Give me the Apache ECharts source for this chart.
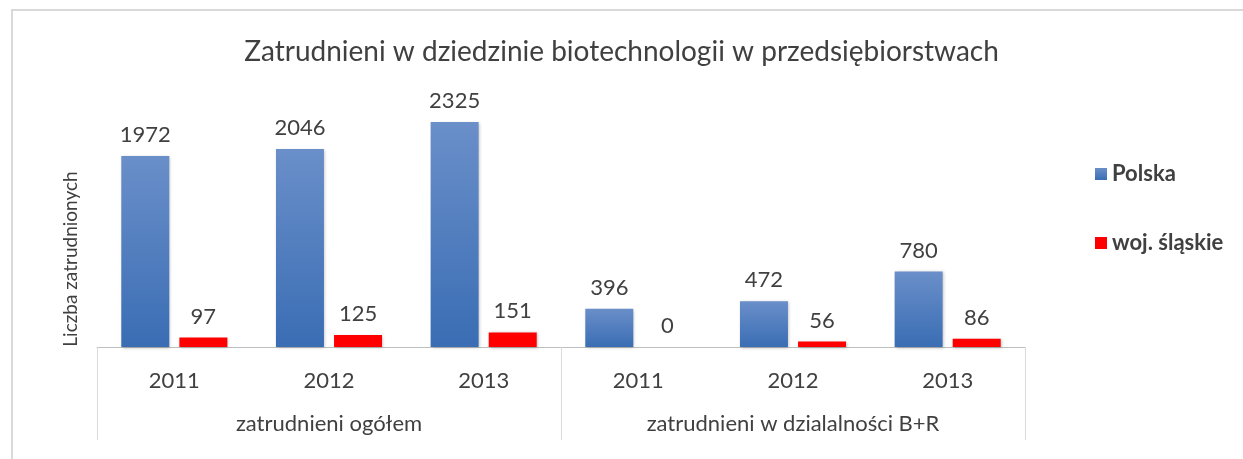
<!DOCTYPE html>
<html>
<head>
<meta charset="utf-8">
<script src="https://cdn.jsdelivr.net/npm/echarts@6/dist/echarts.min.js"></script>
<style>
  html, body { margin: 0; padding: 0; background: #fff; }
  #chart { width: 1243px; height: 459px; }
</style>
</head>
<body>
<div id="chart"></div>
<script>
  /** Data */
  var years = ['2011', '2012', '2013', '2011', '2012', '2013'];
  var groups = ['zatrudnieni ogółem', 'zatrudnieni w dzialalności B+R'];
  var polska = [1972, 2046, 2325, 396, 472, 780];
  var slaskie = [97, 125, 151, 0, 56, 86];

  var font = 'Lato, "Open Sans", sans-serif';

  var option = {
    backgroundColor: '#fff',
    animation: false,
    title: {
      text: 'Zatrudnieni w dziedzinie biotechnologii w przedsiębiorstwach',
      left: 'center',
      top: 33,
      textStyle: { color: '#404040', fontSize: 28, fontWeight: 'normal', fontFamily: font }
    },
    legend: {
      orient: 'vertical',
      left: 1090,
      top: 158,
      itemWidth: 12,
      itemHeight: 12,
      itemGap: 47,
      icon: 'rect',
      textStyle: { color: '#404040', fontSize: 22, fontWeight: 'bold', fontFamily: font },
      data: ['Polska', 'woj. śląskie']
    },
    graphic: [{
      type: 'polyline',
      shape: { points: [[12, 459], [12, 10], [1243, 10]] },
      style: { stroke: '#d9d9d9', lineWidth: 2, fill: null },
      silent: true
    }],
    grid: { left: 97, right: 218, top: 105, bottom: 112 },
    xAxis: [{
      type: 'category',
      data: years,
      position: 'bottom',
      axisLine: { lineStyle: { color: '#bfbfbf' } },
      axisTick: { show: false },
      axisLabel: { color: '#404040', fontSize: 22, margin: 23, fontFamily: font }
    }, {
      type: 'category',
      data: groups,
      position: 'bottom',
      axisLine: { show: false },
      axisTick: { show: true, length: 93, lineStyle: { color: '#d9d9d9' } },
      axisLabel: { color: '#404040', fontSize: 22, margin: 66, fontFamily: font }
    }],
    yAxis: {
      type: 'value',
      min: 0,
      max: 2500,
      name: 'Liczba zatrudnionych',
      nameLocation: 'middle',
      nameGap: 17,
      nameTextStyle: { color: '#404040', fontSize: 19, fontFamily: font, padding: [0, 66, 0, 0] },
      axisLine: { show: false },
      axisTick: { show: false },
      axisLabel: { show: false },
      splitLine: { show: false }
    },
    series: [{
      name: 'Polska',
      type: 'bar',
      data: polska,
      barWidth: 48,
      barGap: '21%',
      itemStyle: {
        color: new echarts.graphic.LinearGradient(0, 0, 0, 1, [
          { offset: 0, color: '#6a8fc9' },
          { offset: 1, color: '#3a6db4' }
        ]),
        shadowBlur: 3,
        shadowOffsetX: 1,
        shadowOffsetY: 1,
        shadowColor: 'rgba(0,0,0,0.25)'
      },
      label: { show: true, position: 'top', distance: 10, color: '#404040', fontSize: 22, fontFamily: font }
    }, {
      name: 'woj. śląskie',
      type: 'bar',
      data: slaskie,
      barWidth: 48,
      itemStyle: {
        color: '#ff0000',
        shadowBlur: 3,
        shadowOffsetX: 1,
        shadowOffsetY: 1,
        shadowColor: 'rgba(0,0,0,0.25)'
      },
      label: { show: true, position: 'top', distance: 10, color: '#404040', fontSize: 22, fontFamily: font }
    }]
  };

  echarts.init(document.getElementById('chart')).setOption(option);
</script>
</body>
</html>
